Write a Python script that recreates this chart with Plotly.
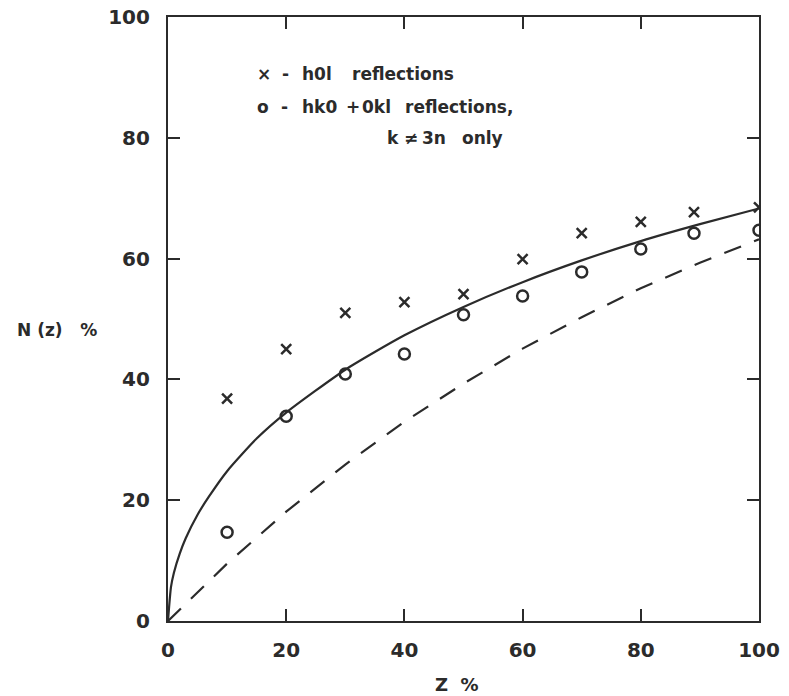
import plotly.graph_objects as go

z_obs = [10, 20, 30, 40, 50, 60, 70, 80, 89, 100]
n_h0l = [36.8, 45.0, 51.0, 52.8, 54.1, 59.9, 64.2, 66.1, 67.7, 68.5]
n_hk0 = [14.7, 33.9, 40.9, 44.2, 50.7, 53.8, 57.8, 61.6, 64.2, 64.7]

# Theoretical curves
solid_z = [0, 0.5, 1, 2, 3, 5, 7, 10, 15, 20, 30, 40, 50, 60, 70, 80, 90, 100]
solid_n = [0, 5.6, 8.0, 11.2, 13.7, 17.6, 20.7, 24.8, 30.2, 34.5, 41.6, 47.3, 52.0, 56.1, 59.7, 62.9, 65.7, 68.3]
dashed_z = [0, 10, 20, 30, 40, 50, 60, 70, 80, 90, 100]
dashed_n = [0, 9.5, 18.1, 25.9, 33.0, 39.3, 45.1, 50.3, 55.1, 59.3, 63.2]

tick_vals = [0, 20, 40, 60, 80, 100]
tick_text = ["0", "20", "40", "60", "80", "100"]

INK = "#2b2b2b"
FONT = "DejaVu Sans"

# page body margin is removed, so the figure starts at screen (0, 0)
OFF = 0
W, H = 789, 696
ml = 168 - OFF
mt = 17 - OFF
mr = W - (759 - OFF)
mb = H - (621 - OFF)
pw, ph = W - ml - mr, H - mt - mb

fig = go.Figure()
fig.add_trace(go.Scatter(x=solid_z, y=solid_n, mode="lines",
                         line=dict(color=INK, width=2.2, shape="spline", smoothing=0.6),
                         showlegend=False, hoverinfo="skip"))
fig.add_trace(go.Scatter(x=dashed_z, y=dashed_n, mode="lines",
                         line=dict(color=INK, width=2.2, dash="18px,14px"),
                         showlegend=False, hoverinfo="skip"))
fig.add_trace(go.Scatter(x=z_obs, y=n_h0l, mode="markers",
                         marker=dict(symbol="x-thin", size=10, color=INK,
                                     line=dict(color=INK, width=2.5)),
                         showlegend=False))
fig.add_trace(go.Scatter(x=z_obs, y=n_hk0, mode="markers",
                         marker=dict(symbol="circle-open", size=11, color=INK,
                                     line=dict(color=INK, width=2.5)),
                         showlegend=False))

axis_common = dict(range=[0, 100], showline=True, linewidth=2.2, linecolor=INK,
                   mirror="ticks", ticks="inside", ticklen=12, tickwidth=2,
                   tickcolor=INK, showgrid=False, zeroline=False, automargin=False,
                   ticklabeloverflow="allow",
                   tickvals=tick_vals, ticktext=tick_text,
                   tickfont=dict(family=FONT, size=20, color=INK, weight="bold"))

fig.update_xaxes(**axis_common, ticklabelstandoff=10)
fig.update_yaxes(**axis_common, ticklabelstandoff=12)


def add_text(sx, sy, text, size=16, anchor="center"):
    px, py = sx - OFF, sy - OFF
    fig.add_annotation(x=(px - ml) / pw, y=(H - mb - py) / ph, xref="paper", yref="paper",
                       text=text, showarrow=False, xanchor=anchor, yanchor="middle",
                       font=dict(family=FONT, size=size, color=INK, weight="bold"))


# legend, word by word at reference positions (left edges)
for sx, sy, t in [(255, 74, "×"), (280, 74, "-"), (300, 74, "h0l"), (350, 74, "reflections"),
                  (255, 107, "o"), (279, 107, "-"), (300, 107, "hk0"), (344, 107, "+"),
                  (360, 107, "0kl"), (403, 107, "reflections,"),
                  (385, 138, "k"), (402, 138, "≠"), (420, 138, "3n"), (460, 138, "only")]:
    add_text(sx, sy, t, size=17, anchor="left")

add_text(457, 684, "Z  %", size=18)
add_text(57, 330, "N (z)   %", size=17)

fig.update_layout(width=W, height=H, margin=dict(l=ml, r=mr, t=mt, b=mb),
                  plot_bgcolor="white", paper_bgcolor="white",
                  font=dict(family=FONT, color=INK), hovermode=False)

fig.write_html("out.html", config={"displayModeBar": False},
               post_script="document.body.style.margin='0px';document.body.style.overflow='hidden';")
